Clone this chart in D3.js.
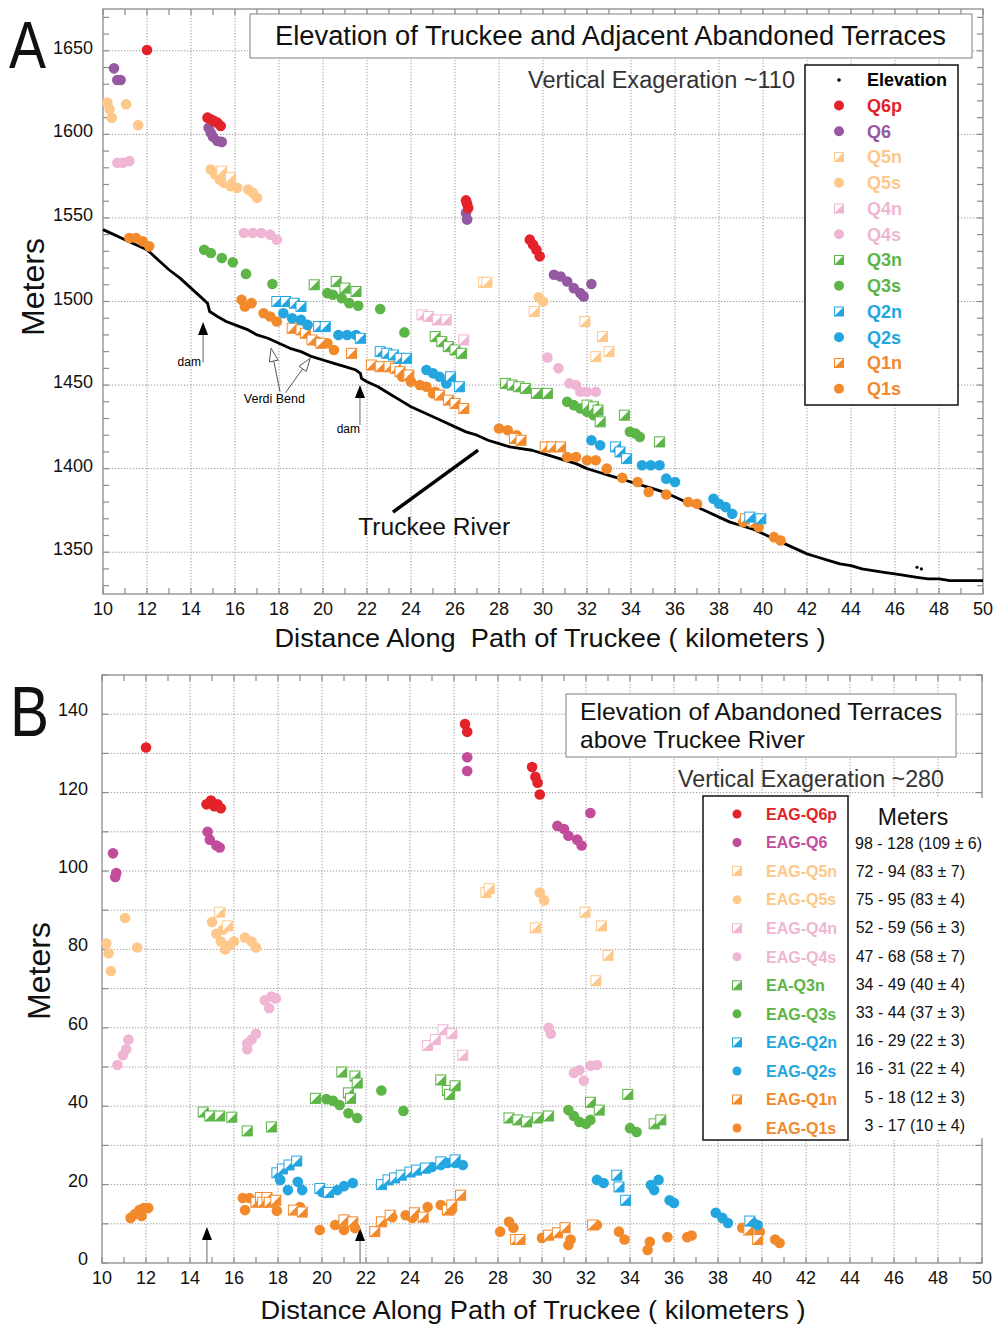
<!DOCTYPE html>
<html><head><meta charset="utf-8">
<script src="https://cdn.jsdelivr.net/npm/d3@7"></script>
<style>body{margin:0;background:#fff} svg{display:block} text{font-family:"Liberation Sans",Arial,sans-serif}</style>
</head><body><svg id="c" width="995" height="1326"></svg>
<script>
// ---------- tick labels ----------
const kmLabels = [10,12,14,16,18,20,22,24,26,28,30,32,34,36,38,40,42,44,46,48,50];
const elevLabels = [1350,1400,1450,1500,1550,1600,1650];
const heightLabels = [0,20,40,60,80,100,120,140];

// ---------- Panel A: river elevation profile (km, m) ----------
const river = [[10.0,1543],[10.5,1540],[11.0,1537],[11.5,1534],[12.0,1531],[12.5,1525],[13.0,1519],[13.5,1514],[14.0,1508],[14.5,1502],[14.75,1499],[14.85,1494],[15.2,1491],[15.6,1488],[16.0,1486],[16.6,1483],[17.0,1480],[17.5,1478],[18.0,1475],[18.5,1472],[19.0,1470],[19.5,1467],[20.0,1465],[20.5,1463],[21.0,1461],[21.5,1459],[21.7,1457],[21.75,1454],[22.0,1452],[22.5,1449],[23.0,1445],[23.5,1441],[24.0,1437],[24.5,1434],[25.0,1431],[25.5,1428],[26.0,1425],[26.5,1422],[27.0,1420],[27.5,1417],[28.0,1415],[28.5,1413],[29.0,1412],[29.5,1411],[30.0,1409],[30.5,1407],[31.0,1405],[31.5,1403],[32.0,1400],[32.5,1398],[33.0,1396],[33.5,1394],[34.0,1392],[34.5,1390],[35.0,1388],[35.5,1386],[36.0,1383],[36.5,1380],[37.0,1377],[37.5,1374],[38.0,1371],[38.5,1368],[39.0,1366],[39.5,1364],[40.0,1361],[40.5,1358],[41.0,1355],[41.5,1352],[42.0,1349],[42.5,1347],[43.0,1345],[43.5,1343],[44.0,1342],[44.5,1340],[45.0,1339],[45.5,1338],[46.0,1337],[46.5,1336],[47.0,1335],[47.5,1334],[48.0,1334],[48.5,1333],[49.0,1333],[49.5,1333],[50.0,1333]];
const riverStray = [[47.0,1341],[47.2,1340]];

// ---------- Panel A terraces (km, elevation m) ----------
const A_Q6p = [[12.0,1650.5],[14.75,1610],[14.9,1609],[15.05,1608],[15.2,1607],[15.35,1605],[26.5,1560.5],[26.55,1558.5],[26.6,1556],[29.4,1537],[29.55,1534],[29.7,1531],[29.85,1527]];
const A_Q6 = [[10.5,1639.5],[10.65,1632.5],[10.8,1632.5],[14.8,1604],[14.9,1601],[15.0,1598.5],[15.2,1596],[15.4,1595.5],[26.5,1553],[26.55,1549],[30.5,1516],[30.8,1515],[31.1,1512],[31.4,1508],[31.7,1505],[31.85,1503],[32.2,1510.5]];
const A_Q5n = [[15.4,1578],[15.8,1574],[27.3,1511.5],[27.45,1511.5],[29.6,1494],[31.9,1488],[32.4,1467],[32.7,1479],[33.0,1470]];
const A_Q5s = [[10.2,1619],[10.3,1615],[10.4,1610],[11.05,1618],[11.6,1605.5],[14.9,1579],[15.1,1576],[15.3,1573],[15.5,1571],[15.8,1569],[16.1,1568],[16.6,1567],[16.8,1565],[17.0,1562],[29.8,1502.5],[30.0,1500]];
const A_Q4n = [[24.5,1492],[24.8,1491],[25.2,1489],[25.6,1489],[26.4,1477]];
const A_Q4s = [[10.65,1583],[10.9,1583],[11.2,1584],[16.4,1541],[16.8,1541],[17.2,1541],[17.6,1540],[17.9,1537],[30.2,1466.5],[30.7,1460],[31.2,1451],[31.5,1450],[31.7,1446],[32.0,1446],[32.4,1446]];
const A_Q3n = [[19.6,1510],[20.6,1512],[21.0,1508],[21.5,1506],[25.1,1479],[25.4,1476],[25.7,1473],[26.0,1471],[26.3,1469],[28.3,1451],[28.6,1450],[28.9,1449],[29.2,1448],[29.7,1445],[30.2,1445],[32.0,1438],[32.3,1437],[32.5,1435],[32.6,1428],[33.7,1432],[35.3,1416]];
const A_Q3s = [[14.6,1531],[14.9,1529],[15.4,1526],[15.9,1523.5],[16.5,1516.5],[17.7,1510.5],[20.2,1505],[20.45,1504],[20.85,1502],[21.2,1499],[21.6,1497.5],[22.6,1495.5],[23.7,1481.5],[31.1,1440],[31.4,1438],[31.7,1436],[32.0,1434],[32.3,1432],[33.95,1422],[34.2,1421],[34.4,1419]];
const A_Q2n = [[17.9,1500],[18.3,1500],[18.7,1499],[19.0,1497],[19.8,1485],[20.1,1485],[21.7,1478],[22.6,1470],[22.9,1469],[23.2,1468],[23.5,1466],[23.8,1466],[25.8,1455],[26.2,1449],[33.3,1413],[33.5,1410],[33.8,1406],[39.4,1371],[39.9,1370]];
const A_Q2s = [[18.2,1493],[18.6,1490],[19.0,1489],[19.3,1486],[20.7,1480],[21.1,1480],[21.5,1480],[24.7,1459],[25.0,1457],[25.3,1455],[25.6,1451],[32.2,1417],[32.6,1414],[34.5,1402],[34.9,1402],[35.3,1402],[35.6,1394],[36.0,1392],[37.75,1382],[38.0,1379],[38.3,1377],[38.6,1373]];
const A_Q1n = [[18.6,1484],[19.0,1483],[19.2,1481],[19.5,1477],[19.9,1475],[21.3,1469],[22.2,1462],[22.6,1461],[23.0,1461],[23.3,1460],[23.5,1458],[23.9,1456],[25.3,1444],[25.7,1441],[26.0,1439],[26.4,1436],[28.7,1418],[29.0,1417],[30.1,1413],[30.4,1413],[30.8,1413],[39.2,1370],[39.6,1368]];
const A_Q1s = [[11.2,1538],[11.5,1538],[11.8,1536],[12.1,1533],[16.3,1501],[16.45,1497],[16.75,1499],[17.3,1493],[17.6,1491],[17.9,1488],[19.75,1476],[20.2,1475],[20.5,1471],[23.6,1455],[24.0,1452],[24.4,1450],[24.7,1449],[25.0,1445],[25.1,1446],[28.0,1424],[28.4,1423],[28.8,1420],[31.1,1407],[31.5,1407],[32.0,1405],[32.4,1405],[32.9,1400],[33.6,1394.5],[34.3,1392],[34.8,1386],[35.6,1384.5],[36.6,1380],[37.0,1379],[39.1,1368],[39.8,1365],[40.5,1359],[40.8,1357]];

// ---------- Panel B terraces (km, height above river m) ----------
const B_Q6p = [[12.0,131.5],[14.75,117],[14.95,118],[15.1,116.5],[15.25,117],[15.4,116],[26.5,137.5],[26.6,135.5],[29.55,126.5],[29.7,124],[29.8,122.5],[29.9,119.5]];
const B_Q6 = [[10.5,104.5],[10.65,99.5],[10.6,98.5],[14.8,110],[14.9,108],[15.2,106.5],[15.35,106],[26.6,129],[26.6,125.5],[30.7,111.5],[31.0,110.7],[31.2,109],[31.6,108],[31.8,106.5],[32.2,114.8]];
const B_Q5n = [[15.35,89.5],[15.7,86],[27.45,94.5],[27.6,95.5],[29.7,85.5],[31.95,89.5],[32.7,86],[33.0,78.5],[32.45,72]];
const B_Q5s = [[10.2,81.5],[10.3,79],[10.4,74.5],[11.05,88],[11.6,80.5],[15.0,87],[15.2,84],[15.4,82],[15.6,80],[15.8,81],[16.0,82],[15.5,85],[16.5,83],[16.8,82],[17.0,80.5],[29.9,94.5],[30.1,92.5]];
const B_Q4n = [[24.8,55.5],[25.15,57],[25.5,59.5],[25.9,58.5],[26.4,53]];
const B_Q4s = [[10.7,50.5],[10.95,53],[11.1,54.5],[11.2,57],[16.6,54.5],[16.6,56],[16.8,57],[17.0,58.5],[17.4,67],[17.6,65],[17.7,68],[17.9,67.5],[30.3,60],[30.4,58.5],[31.45,48.5],[31.7,49.2],[31.9,46.5],[32.2,50.3],[32.5,50.5]];
const B_Q3n = [[14.6,38.5],[14.9,37.5],[15.35,37.5],[15.9,37.2],[16.6,33.7],[17.7,34.7],[19.7,42],[20.9,48.7],[21.2,43.4],[21.3,42],[21.5,47.7],[21.6,45.9],[25.4,46.7],[25.7,44],[25.8,43],[26.05,45.2],[28.5,37],[28.9,36.5],[29.3,36],[29.8,37],[30.3,37.5],[32.2,41],[32.6,39],[33.9,43],[35.1,35.5],[35.4,36.5]];
const B_Q3s = [[20.2,41.8],[20.5,41.4],[20.8,40.3],[21.2,38.2],[21.6,37],[22.7,44],[23.7,38.8],[31.2,39],[31.45,37.5],[31.7,36],[32.0,35.5],[32.2,36.5],[34.0,34.4],[34.3,33.4]];
const B_Q2n = [[17.95,23],[18.2,24],[18.5,25],[18.85,26],[19.9,19],[20.3,18],[22.7,20],[23.0,21.2],[23.3,21.7],[23.6,22.4],[24.0,23.2],[24.3,23.7],[24.7,24.2],[25.4,25.8],[26.05,26.3],[33.4,22.4],[33.5,19.4],[33.8,16],[39.45,10.7]];
const B_Q2s = [[18.1,21.2],[18.45,18.6],[18.9,20.7],[19.1,18.6],[20.0,18.1],[20.7,18.6],[21.0,19.6],[21.4,20.4],[25.0,24.5],[25.4,25],[25.7,25.5],[26.05,25.5],[26.4,25],[32.5,21.2],[32.8,20.4],[34.95,19.9],[35.1,18.6],[35.3,21.2],[35.8,16],[36.0,15.3],[37.9,12.8],[38.2,11.5],[38.45,10.2],[39.55,10.5],[39.8,9.7]];
const B_Q1n = [[17.0,15.5],[17.2,16.7],[17.3,15.5],[17.5,16.7],[17.6,15.5],[17.9,16],[18.7,13.5],[19.1,13],[21.0,11],[21.4,10.5],[22.4,8],[22.7,10.5],[23.1,12.2],[24.2,12.8],[24.6,11.7],[25.7,13.5],[25.9,14.8],[26.3,17.3],[28.8,6],[29.0,6],[30.3,7.1],[30.7,7.7],[31.05,9],[32.3,9.7],[39.4,8.4],[39.8,6]];
const B_Q1s = [[11.3,11.5],[11.5,12.5],[11.7,13.5],[11.8,12],[11.9,14],[12.1,14],[16.4,16.6],[16.5,13.5],[16.7,16.6],[17.95,13.3],[19.0,14.3],[19.9,8.4],[20.6,9.7],[21.0,8.4],[21.5,8.9],[23.2,11.7],[23.8,12.2],[24.1,11.5],[24.8,14.3],[25.4,14.8],[25.9,13.5],[28.1,8],[28.5,10.5],[28.7,9],[30.0,6.4],[31.2,4.6],[31.3,6],[32.5,9.7],[33.5,8],[33.75,6],[34.8,3.3],[34.9,5.4],[35.7,6.6],[36.6,6.6],[36.8,7],[39.1,9],[39.9,8],[40.6,6],[40.8,5.1]];

// ---------- legend names / stats ----------
const namesA = ["Q6p","Q6","Q5n","Q5s","Q4n","Q4s","Q3n","Q3s","Q2n","Q2s","Q1n","Q1s"];
const namesB = ["EAG-Q6p","EAG-Q6","EAG-Q5n","EAG-Q5s","EAG-Q4n","EAG-Q4s","EA-Q3n","EAG-Q3s","EAG-Q2n","EAG-Q2s","EAG-Q1n","EAG-Q1s"];
const statsB = ["98 - 128 (109 \u00b1 6)","72 - 94 (83 \u00b1 7)","75 - 95 (83 \u00b1 4)","52 - 59 (56 \u00b1 3)","47 - 68 (58 \u00b1 7)","34 - 49 (40 \u00b1 4)","33 - 44 (37 \u00b1 3)","16 - 29 (22 \u00b1 3)","16 - 31 (22 \u00b1 4)","5 - 18 (12 \u00b1 3)","3 - 17 (10 \u00b1 4)"];

// ---------- styles ----------
const C = {red:"#e42229", purple:"#9558a1", magenta:"#c24c9c", q5:"#fdc88a", q4:"#efb6d3", q3:"#5db447", q2:"#23a6e0", q1:"#f2892b"};
const shapes = ["c","c","n","c","n","c","n","c","n","c","n","c"];
const colorsA = [C.red,C.purple,C.q5,C.q5,C.q4,C.q4,C.q3,C.q3,C.q2,C.q2,C.q1,C.q1];
const colorsB = [C.red,C.magenta,C.q5,C.q5,C.q4,C.q4,C.q3,C.q3,C.q2,C.q2,C.q1,C.q1];
const dataA = [A_Q6p,A_Q6,A_Q5n,A_Q5s,A_Q4n,A_Q4s,A_Q3n,A_Q3s,A_Q2n,A_Q2s,A_Q1n,A_Q1s];
const dataB = [B_Q6p,B_Q6,B_Q5n,B_Q5s,B_Q4n,B_Q4s,B_Q3n,B_Q3s,B_Q2n,B_Q2s,B_Q1n,B_Q1s];

const svg = d3.select("#c");
const xA = d3.scaleLinear([10,50],[103,983]);
const yA = d3.scaleLinear([1325,1675],[594,9]);
const xB = d3.scaleLinear([10,50],[102,982]);
const yB = d3.scaleLinear([0,150],[1263,675]);

function frame(x, y, yGrid, yMinor, yLabels, labRight, labDy){
  const g = svg.append("g");
  const [x0,x1] = x.range(), [yb,yt] = y.range();
  g.selectAll(null).data(kmLabels.slice(1,-1)).join("line")
    .attr("x1",d=>x(d)).attr("x2",d=>x(d)).attr("y1",yt).attr("y2",yb)
    .attr("stroke","#9c9c9c").attr("stroke-width",1).attr("stroke-dasharray","1.3,1.7");
  g.selectAll(null).data(yGrid).join("line")
    .attr("y1",d=>y(d)).attr("y2",d=>y(d)).attr("x1",x0).attr("x2",x1)
    .attr("stroke","#9c9c9c").attr("stroke-width",1).attr("stroke-dasharray","1.3,1.7");
  g.append("rect").attr("x",x0).attr("y",yt).attr("width",x1-x0).attr("height",yb-yt)
    .attr("fill","none").attr("stroke","#8a8a8a").attr("stroke-width",1.3);
  const kmMinor = d3.range(10,51,1);
  const tk = g.append("g").attr("stroke","#8a8a8a").attr("stroke-width",1.2);
  tk.selectAll(null).data(kmMinor).join("line").attr("x1",d=>x(d)).attr("x2",d=>x(d)).attr("y1",yb).attr("y2",yb-6);
  tk.selectAll(null).data(kmMinor).join("line").attr("x1",d=>x(d)).attr("x2",d=>x(d)).attr("y1",yt).attr("y2",yt+6);
  tk.selectAll(null).data(yMinor).join("line").attr("y1",d=>y(d)).attr("y2",d=>y(d)).attr("x1",x0).attr("x2",x0+6);
  tk.selectAll(null).data(yMinor).join("line").attr("y1",d=>y(d)).attr("y2",d=>y(d)).attr("x1",x1).attr("x2",x1-6);
  g.selectAll(null).data(kmLabels).join("text").attr("x",d=>x(d)).attr("y",yb+21)
    .attr("text-anchor","middle").attr("font-size",18).attr("fill","#111").text(d=>d);
  g.selectAll(null).data(yLabels).join("text").attr("x",labRight).attr("y",d=>y(d)+labDy)
    .attr("text-anchor","end").attr("font-size",18).attr("fill","#111").text(d=>d);
  return g;
}

function drawCircles(g, x, y, data, color, r){
  g.selectAll(null).data(data).join("circle").attr("cx",d=>x(d[0])).attr("cy",d=>y(d[1])).attr("r",r).attr("fill",color);
}
function drawSquares(g, x, y, data, color, s){
  const h = s/2;
  const gg = g.selectAll(null).data(data).join("g").attr("transform",d=>`translate(${x(d[0])},${y(d[1])})`);
  gg.append("rect").attr("x",-h).attr("y",-h).attr("width",s).attr("height",s).attr("fill","#fff").attr("stroke",color).attr("stroke-width",1);
  gg.append("path").attr("d",`M${h},${-h}L${h},${h}L${-h},${h}Z`).attr("fill",color);
}
function marker(g, shape, cx, cy, color, size){
  if(shape==="c") g.append("circle").attr("cx",cx).attr("cy",cy).attr("r",size/2).attr("fill",color);
  else drawSquares(g, ()=>cx, ()=>cy, [[0,0]], color, size);
}

// ================= PANEL A =================
frame(xA, yA, elevLabels, d3.range(1330,1675,10), elevLabels, 93, 3);
const gA = svg.append("g");
gA.append("path").datum(river).attr("d",d3.line().x(d=>xA(d[0])).y(d=>yA(d[1])))
  .attr("fill","none").attr("stroke","#000").attr("stroke-width",2.8).attr("stroke-linejoin","round");
gA.selectAll(null).data(riverStray).join("circle").attr("cx",d=>xA(d[0])).attr("cy",d=>yA(d[1])).attr("r",1.6).attr("fill","#000");
[11,10,9,8,7,6,5,4,3,2,1,0].forEach(i=>{
  if(shapes[i]==="c") drawCircles(gA, xA, yA, dataA[i], colorsA[i], 5.3);
  else drawSquares(gA, xA, yA, dataA[i], colorsA[i], 10);
});

// annotations A
function solidArrow(g, x, yTip, yEnd){
  g.append("line").attr("x1",x).attr("x2",x).attr("y1",yTip+10).attr("y2",yEnd).attr("stroke","#666").attr("stroke-width",1);
  g.append("path").attr("d",`M${x},${yTip}L${x+5},${yTip+13}L${x-5},${yTip+13}Z`).attr("fill","#000");
}
const ann = svg.append("g");
solidArrow(ann, xA(14.55), yA(1487.7), yA(1463.5));
solidArrow(ann, xA(21.68), yA(1450), yA(1426));
ann.append("text").attr("x",xA(14.45)).attr("y",yA(1461.5)).attr("text-anchor","end").attr("font-size",12).text("dam");
ann.append("text").attr("x",xA(21.15)).attr("y",yA(1421.5)).attr("text-anchor","middle").attr("font-size",12).text("dam");
ann.append("text").attr("x",xA(16.4)).attr("y",yA(1439.5)).attr("font-size",12.5).text("Verdi Bend");
function openArrow(g, xt, yt, xs, ys){
  const ang = Math.atan2(yt-ys, xt-xs);
  const L = 13, W = 4.5;
  const bx = xt - L*Math.cos(ang), by = yt - L*Math.sin(ang);
  g.append("line").attr("x1",xs).attr("y1",ys).attr("x2",bx).attr("y2",by).attr("stroke","#555").attr("stroke-width",1);
  const px = -Math.sin(ang)*W, py = Math.cos(ang)*W;
  g.append("path").attr("d",`M${xt},${yt}L${bx+px},${by+py}L${bx-px},${by-py}Z`).attr("fill","#fff").attr("stroke","#555").attr("stroke-width",1);
}
openArrow(ann, xA(17.64), yA(1472), xA(18.05), yA(1446));
openArrow(ann, xA(19.42), yA(1466), xA(18.3), yA(1445.5));
ann.append("line").attr("x1",xA(23.18)).attr("y1",yA(1374)).attr("x2",xA(27.05)).attr("y2",yA(1411.1)).attr("stroke","#000").attr("stroke-width",3.5);
ann.append("text").attr("x",xA(21.6)).attr("y",yA(1360.5)).attr("font-size",23).attr("textLength",152).attr("lengthAdjust","spacingAndGlyphs").attr("fill","#111").text("Truckee River");

// title A
svg.append("rect").attr("x",250).attr("y",14).attr("width",722).attr("height",44).attr("fill","#fff").attr("stroke","#808080").attr("stroke-width",1);
svg.append("text").attr("x",275).attr("y",45).attr("font-size",27).attr("textLength",671).attr("lengthAdjust","spacingAndGlyphs").attr("fill","#111").text("Elevation of Truckee and Adjacent Abandoned Terraces");
svg.append("text").attr("x",528).attr("y",88).attr("font-size",23).attr("textLength",267).attr("lengthAdjust","spacingAndGlyphs").attr("fill","#333").text("Vertical Exageration ~110");

// legend A
const lgA = svg.append("g");
lgA.append("rect").attr("x",805).attr("y",65).attr("width",153).attr("height",340).attr("fill","#fff").attr("stroke","#111").attr("stroke-width",1.5);
lgA.append("circle").attr("cx",839).attr("cy",80).attr("r",1.8).attr("fill","#000");
lgA.append("text").attr("x",867).attr("y",80).attr("dy","0.36em").attr("font-size",18).attr("font-weight","bold").attr("fill","#000").text("Elevation");
namesA.forEach((n,i)=>{
  const cy = 105.5 + i*25.75;
  marker(lgA, shapes[i], 839, cy, colorsA[i], shapes[i]==="c"?10:9);
  lgA.append("text").attr("x",867).attr("y",cy).attr("dy","0.36em").attr("font-size",18).attr("font-weight","bold").attr("fill",colorsA[i]).text(n);
});

// axis titles A
svg.append("text").attr("transform","translate(44,287) rotate(-90)").attr("text-anchor","middle").attr("font-size",31).attr("textLength",98).attr("lengthAdjust","spacingAndGlyphs").attr("fill","#111").text("Meters");
svg.append("text").attr("x",550).attr("y",647).attr("text-anchor","middle").attr("font-size",25).attr("textLength",551).attr("lengthAdjust","spacingAndGlyphs").style("white-space","pre").attr("fill","#111").text("Distance Along  Path of Truckee ( kilometers )");
svg.append("text").attr("x",9).attr("y",68).attr("font-size",66).attr("textLength",37).attr("lengthAdjust","spacingAndGlyphs").attr("fill","#111").text("A");

// ================= PANEL B =================
frame(xB, yB, d3.range(10,141,10), d3.range(0,151,10), heightLabels, 88, 2);
const gB = svg.append("g");
[11,10,9,8,7,6,5,4,3,2,1,0].forEach(i=>{
  if(shapes[i]==="c") drawCircles(gB, xB, yB, dataB[i], colorsB[i], 5.3);
  else drawSquares(gB, xB, yB, dataB[i], colorsB[i], 10);
});
solidArrow(ann, xB(14.77), yB(9.2), yB(0));
solidArrow(ann, xB(21.73), yB(8.9), yB(0));

svg.append("rect").attr("x",566).attr("y",694).attr("width",390).attr("height",63).attr("fill","#fff").attr("stroke","#808080").attr("stroke-width",1);
svg.append("text").attr("x",580).attr("y",720).attr("font-size",24).attr("textLength",362).attr("lengthAdjust","spacingAndGlyphs").attr("fill","#111").text("Elevation of Abandoned Terraces");
svg.append("text").attr("x",580).attr("y",748).attr("font-size",24).attr("textLength",225).attr("lengthAdjust","spacingAndGlyphs").attr("fill","#111").text("above Truckee River");
svg.append("text").attr("x",678).attr("y",787).attr("font-size",23).attr("textLength",266).attr("lengthAdjust","spacingAndGlyphs").attr("fill","#333").text("Vertical Exageration ~280");

const lgB = svg.append("g");
lgB.append("rect").attr("x",703).attr("y",796).attr("width",145).attr("height",344).attr("fill","#fff").attr("stroke","#111").attr("stroke-width",1.5);
lgB.append("rect").attr("x",849).attr("y",798).attr("width",134).attr("height",340).attr("fill","#fff");
namesB.forEach((n,i)=>{
  const cy = 814 + i*28.55;
  marker(lgB, shapes[i], 737, cy, colorsB[i], 9);
  lgB.append("text").attr("x",766).attr("y",cy).attr("dy","0.36em").attr("font-size",16).attr("font-weight","bold").attr("fill",colorsB[i]).text(n);
});
lgB.append("text").attr("x",913).attr("y",825).attr("text-anchor","middle").attr("font-size",23).attr("fill","#111").text("Meters");
statsB.forEach((s,i)=>{
  const cy = 843 + i*28.2;
  lgB.append("text").attr("x",i===0?855:965).attr("y",cy).attr("dy","0.36em").attr("text-anchor",i===0?"start":"end").attr("font-size",16).attr("fill","#111").text(s);
});

svg.append("text").attr("transform","translate(50,971) rotate(-90)").attr("text-anchor","middle").attr("font-size",31).attr("textLength",98).attr("lengthAdjust","spacingAndGlyphs").attr("fill","#111").text("Meters");
svg.append("text").attr("x",533).attr("y",1319).attr("text-anchor","middle").attr("font-size",25).attr("textLength",545).attr("lengthAdjust","spacingAndGlyphs").attr("fill","#111").text("Distance Along Path of Truckee ( kilometers )");
svg.append("text").attr("x",10).attr("y",736).attr("font-size",70).attr("textLength",39).attr("lengthAdjust","spacingAndGlyphs").attr("fill","#111").text("B");
</script></body></html>
